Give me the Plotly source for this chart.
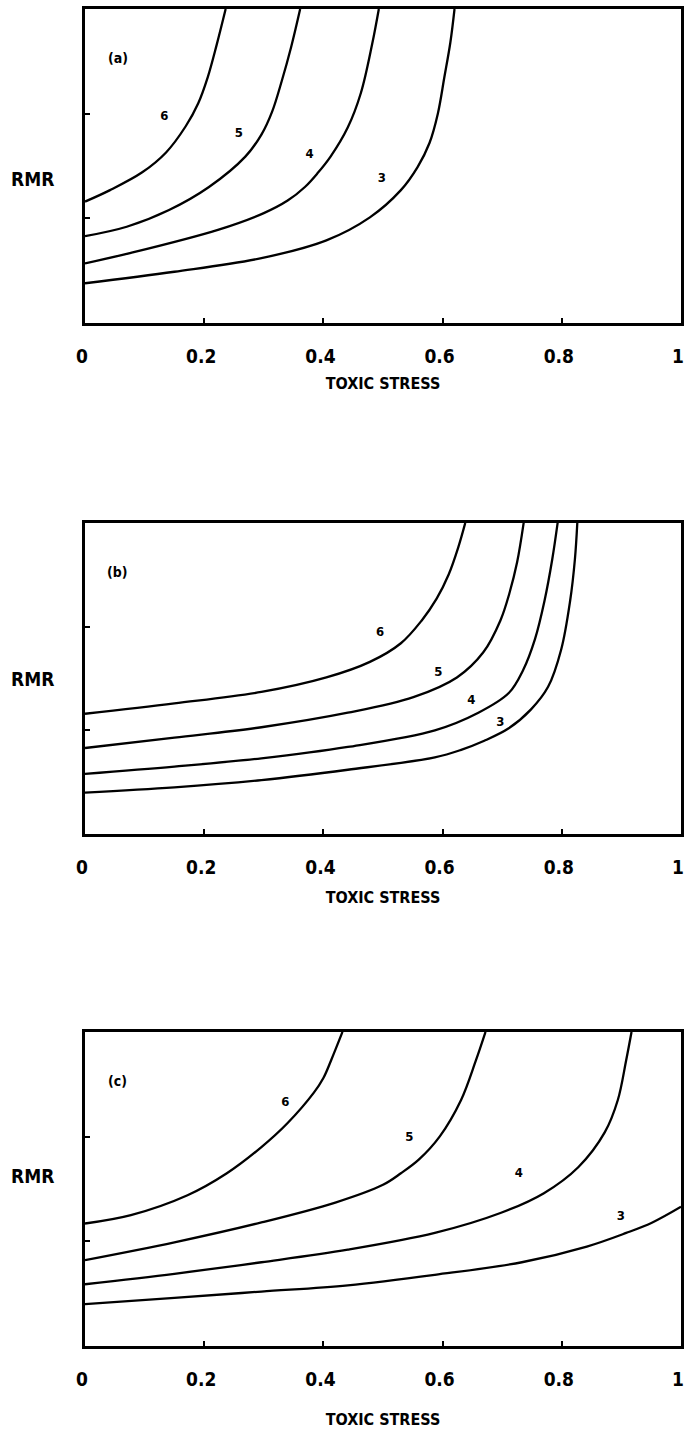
import plotly.graph_objects as go

# ---------------- data ----------------
# Panel (a)
a6_x = [0.0, 0.042, 0.096, 0.136, 0.169, 0.19, 0.206, 0.221, 0.236]
a6_y = [1.16, 1.27, 1.44, 1.63, 1.88, 2.10, 2.35, 2.66, 3.0]
a5_x = [0.0, 0.07, 0.141, 0.208, 0.269, 0.296, 0.314, 0.33, 0.346, 0.361]
a5_y = [0.83, 0.92, 1.08, 1.30, 1.59, 1.80, 2.02, 2.31, 2.64, 3.0]
a4_x = [0.0, 0.077, 0.223, 0.30, 0.34, 0.369, 0.39, 0.412, 0.441, 0.463, 0.482, 0.493]
a4_y = [0.57, 0.67, 0.89, 1.05, 1.17, 1.30, 1.43, 1.59, 1.87, 2.20, 2.67, 3.0]
a3_x = [0.0, 0.15, 0.296, 0.405, 0.478, 0.53, 0.558, 0.578, 0.592, 0.603, 0.613, 0.62]
a3_y = [0.38, 0.49, 0.62, 0.79, 1.01, 1.27, 1.49, 1.72, 2.00, 2.35, 2.68, 3.0]
a_lab_x = [0.133, 0.258, 0.377, 0.498]
a_lab_y = [1.97, 1.81, 1.61, 1.38]

# Panel (b)
b6_x = [0.0, 0.15, 0.296, 0.405, 0.478, 0.53, 0.565, 0.59, 0.61, 0.626, 0.638]
b6_y = [1.16, 1.26, 1.37, 1.51, 1.66, 1.84, 2.06, 2.27, 2.50, 2.76, 3.0]
b5_x = [0.0, 0.15, 0.296, 0.441, 0.551, 0.624, 0.668, 0.697, 0.712, 0.725, 0.736]
b5_y = [0.83, 0.93, 1.03, 1.17, 1.32, 1.51, 1.75, 2.06, 2.32, 2.62, 3.0]
b4_x = [0.0, 0.15, 0.296, 0.441, 0.587, 0.66, 0.711, 0.735, 0.755, 0.771, 0.784, 0.793]
b4_y = [0.58, 0.65, 0.73, 0.84, 1.00, 1.17, 1.36, 1.58, 1.88, 2.25, 2.65, 3.0]
b3_x = [0.0, 0.15, 0.296, 0.441, 0.587, 0.63, 0.67, 0.711, 0.748, 0.777, 0.799, 0.814, 0.822, 0.826]
b3_y = [0.40, 0.45, 0.52, 0.62, 0.74, 0.81, 0.90, 1.02, 1.20, 1.42, 1.78, 2.25, 2.65, 3.0]
b_lab_x = [0.495, 0.593, 0.648, 0.697]
b_lab_y = [1.94, 1.56, 1.29, 1.07]

# Panel (c)
c6_x = [0.0, 0.077, 0.172, 0.238, 0.296, 0.34, 0.384, 0.40, 0.413, 0.432]
c6_y = [1.17, 1.25, 1.44, 1.65, 1.90, 2.13, 2.42, 2.56, 2.73, 3.0]
c5_x = [0.0, 0.15, 0.296, 0.42, 0.50, 0.53, 0.56, 0.595, 0.631, 0.656, 0.672]
c5_y = [0.82, 0.99, 1.18, 1.37, 1.54, 1.65, 1.78, 2.00, 2.35, 2.73, 3.0]
c4_x = [0.0, 0.15, 0.296, 0.441, 0.587, 0.697, 0.77, 0.828, 0.872, 0.894, 0.908, 0.917]
c4_y = [0.59, 0.69, 0.80, 0.92, 1.08, 1.27, 1.46, 1.71, 2.04, 2.35, 2.73, 3.0]
c3_x = [0.0, 0.15, 0.296, 0.441, 0.587, 0.733, 0.842, 0.908, 0.952, 1.0]
c3_y = [0.40, 0.46, 0.52, 0.58, 0.68, 0.80, 0.95, 1.08, 1.18, 1.33]
c_lab_x = [0.336, 0.544, 0.728, 0.899]
c_lab_y = [2.32, 1.99, 1.65, 1.23]

curve_names = ["6", "5", "4", "3"]
panel_letters = ["(a)", "(b)", "(c)"]
x_tickvals = [0, 0.2, 0.4, 0.6, 0.8, 1]
x_ticktext = ["0", "0.2", "0.4", "0.6", "0.8", "1"]
y_tickvals = [1, 2]
x_title = "TOXIC STRESS"
y_title = "RMR"

panels = [
    ([(a6_x, a6_y), (a5_x, a5_y), (a4_x, a4_y), (a3_x, a3_y)], a_lab_x, a_lab_y),
    ([(b6_x, b6_y), (b5_x, b5_y), (b4_x, b4_y), (b3_x, b3_y)], b_lab_x, b_lab_y),
    ([(c6_x, c6_y), (c5_x, c5_y), (c4_x, c4_y), (c3_x, c3_y)], c_lab_x, c_lab_y),
]

# ---------------- figure ----------------
W, H = 688, 1435
ML, MR, MT, MB = 85, 4, 9, 89
fig = go.Figure()

domains = [[0.7651, 1.0], [0.3829, 0.6156], [0.0, 0.2349]]
title_standoff = [12, 15, 26]
FONT = "DejaVu Sans Condensed, Liberation Sans Narrow, Arial, sans-serif"

for i, (curves, lx, ly) in enumerate(panels):
    xa = "x" if i == 0 else f"x{i+1}"
    ya = "y" if i == 0 else f"y{i+1}"
    for (cx, cy), nm in zip(curves, curve_names):
        fig.add_trace(go.Scatter(
            x=cx, y=cy, mode="lines", name=nm,
            line=dict(color="black", width=2.3, shape="spline", smoothing=1.0),
            xaxis=xa, yaxis=ya, showlegend=False, hoverinfo="skip"))
    fig.add_trace(go.Scatter(
        x=lx, y=ly, mode="text", text=curve_names,
        textfont=dict(size=13, color="black", family=FONT, weight="bold"),
        xaxis=xa, yaxis=ya, showlegend=False, hoverinfo="skip"))

    axis_common = dict(showline=True, linecolor="black", linewidth=3, mirror=True,
                       showgrid=False, zeroline=False, ticks="inside",
                       tickcolor="black", ticklen=5, tickwidth=2)
    xkey = "xaxis" if i == 0 else f"xaxis{i+1}"
    ykey = "yaxis" if i == 0 else f"yaxis{i+1}"
    fig.update_layout(**{
        xkey: dict(axis_common, range=[0, 1], domain=[0, 1], anchor=ya,
                   tickvals=x_tickvals, ticktext=x_ticktext,
                   tickfont=dict(size=19, color="black", family=FONT, weight="bold"),
                   ticklabelstandoff=14, ticklabelshift=-3, ticklabeloverflow="allow",
                   title=dict(text=x_title, standoff=title_standoff[i],
                              font=dict(size=16, color="black", family=FONT, weight="bold"))),
        ykey: dict(axis_common, range=[0, 3], domain=domains[i], anchor=xa,
                   tickvals=y_tickvals, showticklabels=False),
    })

    # panel letter
    fig.add_annotation(x=0.055, y=2.53, xref=xa, yref=ya, text=panel_letters[i],
                       showarrow=False, font=dict(size=14, color="black", family=FONT, weight="bold"))
    # RMR label (horizontal, left of axis)
    d0, d1 = domains[i]
    fig.add_annotation(x=-53 / (W - ML - MR), y=(d0 + d1) / 2, xref="paper", yref="paper",
                       text=y_title, showarrow=False, xanchor="center",
                       font=dict(size=19, color="black", family=FONT, weight="bold"))

fig.update_layout(width=W, height=H, margin=dict(l=ML, r=MR, t=MT, b=MB),
                  paper_bgcolor="white", plot_bgcolor="white")

fig.write_html("out.html", config={"displayModeBar": False, "staticPlot": True},
               post_script="document.body.style.margin='0';document.body.style.overflow='hidden';")
